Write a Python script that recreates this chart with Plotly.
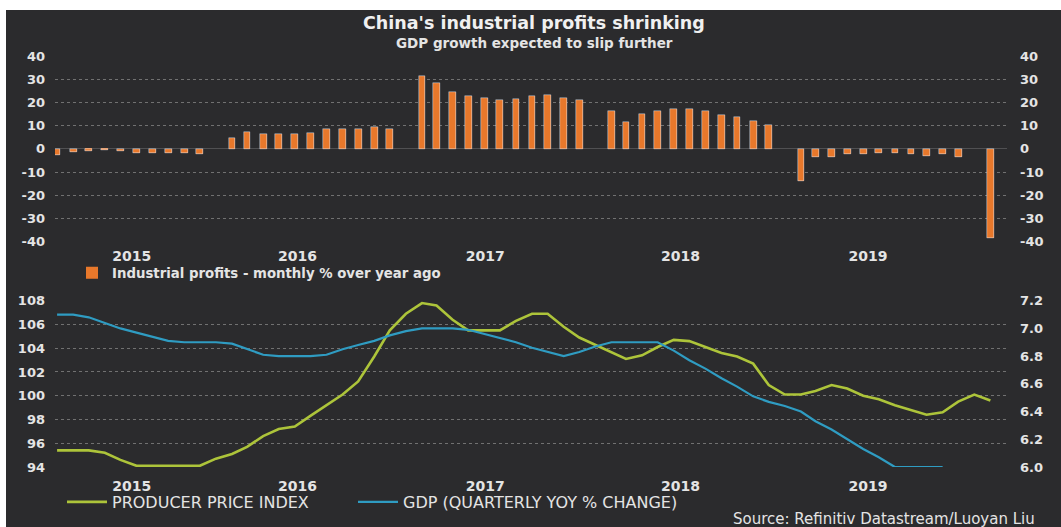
import pandas as pd
import plotly.graph_objects as go

# ---------------- data ----------------
profit_months = (
    ["2015-%02d-01" % m for m in range(3, 13)]
    + ["2016-%02d-01" % m for m in range(2, 13)]
    + ["2017-%02d-01" % m for m in range(2, 13)]
    + ["2018-%02d-01" % m for m in range(2, 13)]
    + ["2019-%02d-01" % m for m in range(2, 13)]
    + ["2020-02-01"]
)
profit_values = [
    -2.7, -1.3, -0.8, -0.7, -1.0, -1.9, -1.7, -2.0, -1.9, -2.3,
    4.8, 7.4, 6.5, 6.4, 6.2, 6.9, 8.4, 8.4, 8.6, 9.4, 8.5,
    31.5, 28.3, 24.4, 22.7, 22.0, 21.2, 21.6, 22.8, 23.3, 21.9, 21.0,
    16.1, 11.6, 15.0, 16.5, 17.2, 17.1, 16.2, 14.7, 13.6, 11.8, 10.3,
    -14.0, -3.3, -3.4, -2.3, -2.4, -1.7, -1.7, -2.1, -2.9, -2.1, -3.3,
    -38.3,
]

ppi_values = [
    95.4, 95.4, 95.4, 95.2, 94.6, 94.1, 94.1, 94.1, 94.1, 94.1,
    94.7, 95.1, 95.7, 96.6, 97.2, 97.4, 98.3, 99.2, 100.1, 101.2, 103.3, 105.5,
    106.9, 107.8, 107.6, 106.4, 105.5, 105.5, 105.5, 106.3, 106.9, 106.9, 105.8, 104.9,
    104.3, 103.7, 103.1, 103.4, 104.1, 104.7, 104.6, 104.1, 103.6, 103.3, 102.7, 100.9,
    100.1, 100.1, 100.4, 100.9, 100.6, 100.0, 99.7, 99.2, 98.8, 98.4, 98.6, 99.5,
    100.1, 99.6,
]
ppi_months = pd.date_range("2015-03-01", periods=len(ppi_values), freq="MS")

gdp_values = [
    7.10, 7.10, 7.08, 7.04, 7.00, 6.97, 6.94, 6.91, 6.90, 6.90,
    6.90, 6.89, 6.85, 6.81, 6.80, 6.80, 6.80, 6.81, 6.85, 6.88, 6.91, 6.95,
    6.98, 7.00, 7.00, 7.00, 6.99, 6.96, 6.93, 6.90, 6.86, 6.83, 6.80, 6.83,
    6.87, 6.90, 6.90, 6.90, 6.90, 6.84, 6.77, 6.71, 6.64, 6.58, 6.51, 6.47,
    6.44, 6.40, 6.33, 6.27, 6.20, 6.13, 6.07, 6.00, 6.00, 6.00, 6.00,
]
gdp_months = pd.date_range("2015-03-01", periods=len(gdp_values), freq="MS")

year_labels = ["2015", "2016", "2017", "2018", "2019"]
year_positions = ["2015-07-23", "2016-06-06", "2017-06-03", "2018-06-14", "2019-06-10"]

profit_ticks = [40, 30, 20, 10, 0, -10, -20, -30, -40]
profit_tick_text = ["40", "30", "20", "10", "0", "-10", "-20", "-30", "-40"]
ppi_ticks = [94, 96, 98, 100, 102, 104, 106, 108]
gdp_ticks = [6.0, 6.2, 6.4, 6.6, 6.8, 7.0, 7.2]

# ---------------- style ----------------
W, H = 1061, 527
ML, MR, MT, MB = 55, 54, 56, 60
PW, PH = W - ML - MR, H - MT - MB

def px(x):
    return (x - ML) / PW

def py(y):
    return (H - MB - y) / PH

def cx(x):
    return x / W

def cy(y):
    return 1 - y / H

BG = "#2b2b2d"
BAR = "#e8782b"
PPI = "#adc43a"
GDP = "#2f9cc2"
TXT = "#e4e4e4"
GRID = "#717171"
FONT = "DejaVu Sans"

tickfont = dict(family=FONT, size=13, color=TXT, weight="bold")
yearfont = dict(family=FONT, size=14, color=TXT, weight="bold")
BARW = 13 * 86400000

fig = go.Figure()

fig.add_trace(go.Bar(
    x=profit_months, y=profit_values, xaxis="x", yaxis="y",
    marker=dict(color=BAR, line=dict(width=0)), width=BARW,
    name="Industrial profits - monthly % over year ago", legend="legend",
))
fig.add_trace(go.Bar(
    x=profit_months, y=profit_values, xaxis="x", yaxis="y2",
    marker=dict(color="rgba(0,0,0,0)"), width=BARW,
    showlegend=False, hoverinfo="skip",
))
fig.add_trace(go.Scatter(
    x=ppi_months, y=ppi_values, xaxis="x2", yaxis="y3", mode="lines",
    line=dict(color=PPI, width=2.6), name="PRODUCER PRICE INDEX", legend="legend2",
))
fig.add_trace(go.Scatter(
    x=gdp_months, y=gdp_values, xaxis="x2", yaxis="y4", mode="lines",
    line=dict(color=GDP, width=2.2), name="GDP (QUARTERLY YOY % CHANGE)", legend="legend3",
))

xrange = ["2015-02-25", "2020-03-04"]
top_dom = [py(241.7), 1.0]
bot_dom = [0.0, py(300.7)]

common_x = dict(
    type="date", range=xrange, tickmode="array", tickvals=year_positions,
    ticktext=year_labels, showgrid=False, zeroline=False, showline=False,
    ticks="", tickfont=yearfont,
)
legend_common = dict(
    xanchor="left", yanchor="middle", orientation="h", bgcolor="rgba(0,0,0,0)",
    xref="container", yref="container",
)
line_legend_font = dict(family=FONT, size=16, color=TXT)

fig.update_layout(
    width=W, height=H,
    margin=dict(l=ML, r=MR, t=MT, b=MB, autoexpand=False),
    paper_bgcolor=BG, plot_bgcolor=BG,
    bargap=0,
    xaxis=dict(common_x, anchor="y", domain=[0, 1], ticklabelstandoff=4),
    xaxis2=dict(common_x, anchor="y3", domain=[0, 1], matches="x", ticklabelstandoff=9),
    yaxis=dict(
        domain=top_dom, range=[-40, 40], tickmode="array", tickvals=profit_ticks,
        ticktext=profit_tick_text,
        showgrid=True, gridcolor=GRID, griddash="dot", gridwidth=1,
        zeroline=True, zerolinecolor="#505052", zerolinewidth=1,
        ticks="", tickfont=tickfont, ticklabelstandoff=9, anchor="x",
    ),
    yaxis2=dict(
        overlaying="y", side="right", range=[-40, 40], tickmode="array",
        tickvals=profit_ticks, ticktext=profit_tick_text,
        showgrid=False, zeroline=False, ticks="",
        tickfont=tickfont, ticklabelstandoff=12, anchor="x",
    ),
    yaxis3=dict(
        domain=bot_dom, range=[94, 108], tickmode="array", tickvals=ppi_ticks,
        showgrid=True, gridcolor=GRID, griddash="dot", gridwidth=1,
        zeroline=False, ticks="", tickfont=tickfont, ticklabelstandoff=9, anchor="x2",
    ),
    yaxis4=dict(
        overlaying="y3", side="right", range=[6.0, 7.2], tickmode="array",
        tickvals=gdp_ticks, tickformat=".1f", showgrid=False, zeroline=False,
        ticks="", tickfont=tickfont, ticklabelstandoff=12, anchor="x2",
    ),
    legend=dict(
        legend_common, x=cx(72), y=cy(273),
        font=dict(family=FONT, size=13.3, color=TXT, weight="bold"),
    ),
    legend2=dict(legend_common, x=cx(62), y=cy(502), font=line_legend_font, itemwidth=40),
    legend3=dict(legend_common, x=cx(353), y=cy(502), font=line_legend_font, itemwidth=40),
    shapes=[
        dict(type="rect", xref="paper", yref="paper", layer="below",
             x0=px(-5), x1=px(W + 5), y0=py(10), y1=py(-5),
             fillcolor="white", line=dict(width=0)),
        dict(type="rect", xref="paper", yref="paper", layer="below",
             x0=px(-5), x1=px(6), y0=py(H + 5), y1=py(-5),
             fillcolor="white", line=dict(width=0)),
    ],
    annotations=[
        dict(text="China's industrial profits shrinking", x=px(534), y=py(23),
             xref="paper", yref="paper", showarrow=False, xanchor="center", yanchor="middle",
             font=dict(family=FONT, size=17.5, color="#f0f0f0", weight="bold")),
        dict(text="GDP growth expected to slip further", x=px(534), y=py(43),
             xref="paper", yref="paper", showarrow=False, xanchor="center", yanchor="middle",
             font=dict(family=FONT, size=13.5, color=TXT, weight="bold")),
        dict(text="Source: Refinitiv Datastream/Luoyan Liu", x=px(1037), y=py(519),
             xref="paper", yref="paper", showarrow=False, xanchor="right", yanchor="middle",
             font=dict(family=FONT, size=15, color=TXT)),
    ],
)

fig.write_html(
    "out.html",
    config={"displayModeBar": False},
    post_script=(
        "var s=document.createElement('style');"
        "s.innerHTML='html,body{margin:0!important;padding:0!important;overflow:hidden!important;"
        "background:" + BG + "!important}::-webkit-scrollbar{display:none;width:0;height:0}';"
        "document.head.appendChild(s);"
    ),
)
